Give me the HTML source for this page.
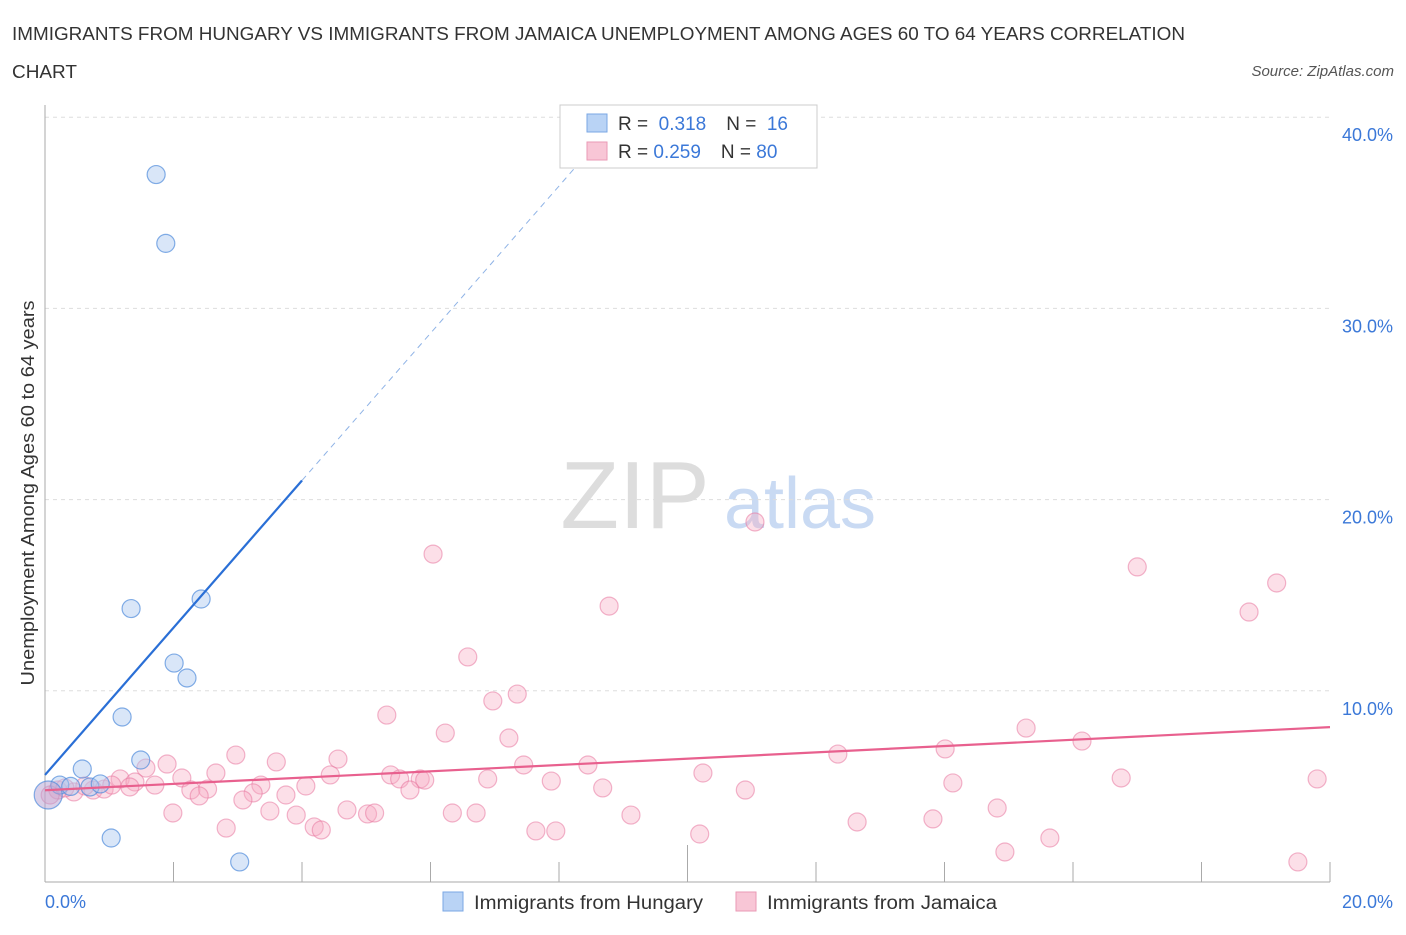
<!DOCTYPE html>
<html><head><meta charset="utf-8"><style>
body{margin:0;background:#fff;font-family:"Liberation Sans",sans-serif;}
svg text{font-family:"Liberation Sans",sans-serif;}
</style></head><body>
<svg id="c" width="1406" height="930">
<text x="12" y="40" font-size="18" fill="#333" textLength="1173" lengthAdjust="spacingAndGlyphs">IMMIGRANTS FROM HUNGARY VS IMMIGRANTS FROM JAMAICA UNEMPLOYMENT AMONG AGES 60 TO 64 YEARS CORRELATION</text>
<text x="12" y="78" font-size="18" fill="#333" textLength="65" lengthAdjust="spacingAndGlyphs">CHART</text>
<text x="1394" y="76" font-size="15" fill="#555" font-style="italic" text-anchor="end">Source: ZipAtlas.com</text>
<g>
<text x="635" y="528" font-size="96" fill="#ddd" font-family="Liberation Serif" text-anchor="middle">ZIP</text>
<text x="800" y="528" font-size="72" fill="#c9daf3" text-anchor="middle">atlas</text>
</g>
<g id="grid"></g>
<g id="axes"></g>
<g id="marks"></g>
<text x="34" y="493" font-size="18" fill="#333" transform="rotate(-90 34 493)" text-anchor="middle" textLength="385" lengthAdjust="spacingAndGlyphs">Unemployment Among Ages 60 to 64 years</text>
<text x="45" y="908" font-size="18" fill="#3b78d8">0.0%</text>
<text x="1393" y="908" font-size="18" fill="#3b78d8" text-anchor="end">20.0%</text>
<g>
<rect x="560" y="105" width="257" height="63" fill="#fff" stroke="#ccc"/>
<rect x="587" y="114" width="20" height="18" fill="#b9d3f5" stroke="#7aa7e4"/>
<rect x="587" y="142" width="20" height="18" fill="#f8c6d6" stroke="#ea9ab5"/>
<text x="618" y="130" font-size="19" fill="#333">R = <tspan fill="#3b78d8">&#160;0.318</tspan><tspan dx="20">N = </tspan><tspan fill="#3b78d8">&#160;16</tspan></text>
<text x="618" y="158" font-size="19" fill="#333">R = <tspan fill="#3b78d8">0.259</tspan><tspan dx="20">N = </tspan><tspan fill="#3b78d8">80</tspan></text>
</g>
<g>
<rect x="443" y="892" width="20" height="19" fill="#b9d3f5" stroke="#7aa7e4"/>
<text x="474" y="909" font-size="19" fill="#333" textLength="229" lengthAdjust="spacingAndGlyphs">Immigrants from Hungary</text>
<rect x="736" y="892" width="20" height="19" fill="#f8c6d6" stroke="#ea9ab5"/>
<text x="767" y="909" font-size="19" fill="#333" textLength="230" lengthAdjust="spacingAndGlyphs">Immigrants from Jamaica</text>
</g>
</svg>
<script>
const yTicks=[10,20,30,40];
const yTickLabels=["10.0%","20.0%","30.0%","40.0%"];
const hungaryX=[1.73,1.88,1.34,2.43,2.01,2.21,1.20,1.49,0.58,1.03,3.03,0.23,0.70,0.86,0.40,0.05];
const hungaryY=[37.0,33.4,14.3,14.8,11.45,10.67,8.63,6.38,5.91,2.30,1.05,5.07,4.97,5.13,5.0,4.55];
const jamaicaX=[6.04,11.05,8.78,17.0,19.17,18.74,6.58,6.97,7.35,5.32,6.23,7.22,15.27,16.14,14.01,12.34,2.97,4.56,3.60,1.90,1.57,7.45,8.45,10.24,2.66,4.44,5.38,2.13,5.52,5.84,5.91,6.89,16.75,19.8,3.36,4.06,1.17,1.40,1.71,7.88,14.13,8.68,10.9,2.27,2.53,5.68,1.32,0.75,0.45,0.92,3.75,2.40,3.24,3.08,3.50,4.70,5.02,5.13,3.91,6.34,6.71,9.12,1.99,14.82,2.82,4.19,4.30,7.64,7.95,10.19,12.64,13.82,15.64,14.94,19.5,0.20,0.08,0.31,0.62,1.04];
const jamaicaY=[17.15,18.83,14.43,16.48,15.64,14.12,11.77,9.47,9.83,8.73,7.79,7.53,8.05,7.37,6.96,6.69,6.64,6.43,6.28,6.17,5.96,6.12,6.12,5.70,5.70,5.60,5.60,5.44,5.39,5.39,5.33,5.39,5.44,5.39,5.07,5.02,5.39,5.23,5.07,5.28,5.18,4.92,4.81,4.81,4.86,4.81,4.97,4.81,4.71,4.86,4.55,4.50,4.66,4.29,3.71,3.77,3.56,3.61,3.50,3.61,3.61,3.50,3.61,3.87,2.82,2.88,2.72,2.67,2.67,2.51,3.14,3.30,2.30,1.57,1.05,4.81,4.55,4.92,5.02,5.07];
const hungaryTrend=[5.6,3.85]; // intercept, slope
const jamaicaTrend=[4.8,0.165];
const NS="http://www.w3.org/2000/svg";
const sx=v=>45+v*64.25, sy=v=>882-v*19.12;
function mk(tag,attrs,parent){const e=document.createElementNS(NS,tag);for(const k in attrs)e.setAttribute(k,attrs[k]);parent.appendChild(e);return e;}
const grid=document.getElementById('grid'),axes=document.getElementById('axes'),marks=document.getElementById('marks');
yTicks.forEach((t,i)=>{
 const l=mk('line',{x1:45,x2:1330,y1:sy(t),y2:sy(t),stroke:'#ddd','stroke-dasharray':'4,4'},grid);
 
 
 const tx=mk('text',{x:1393,y:sy(t)+24,'font-size':18,fill:'#3b78d8','text-anchor':'end'},grid);
 tx.textContent=yTickLabels[i];
 
 
});
mk('line',{x1:45,x2:45,y1:105,y2:882,stroke:'#aaa'},axes);
mk('line',{x1:45,x2:1330,y1:882,y2:882,stroke:'#aaa'},axes);
for(let i=1;i<=10;i++){
 const x=sx(i*2);
 const t=mk('line',{x1:x,x2:x,y1:i==5?845:862,y2:882,stroke:'#aaa'},axes);
 
 
}
jamaicaX.forEach((x,i)=>{
 const c=mk('circle',{cx:sx(x),cy:sy(jamaicaY[i]),r:9,fill:'rgba(246,170,195,0.38)',stroke:'rgba(232,120,160,0.55)','stroke-width':1.2},marks);
 
 
});
hungaryX.forEach((x,i)=>{
 const big=i==hungaryX.length-1;
 const c=mk('circle',{cx:sx(x),cy:sy(hungaryY[i]),r:big?14:9,fill:big?'rgba(180,160,210,0.5)':'rgba(170,200,240,0.45)',stroke:'rgba(80,140,220,0.7)','stroke-width':1.2},marks);
 
 
});
let l=mk('line',{x1:sx(0),y1:sy(hungaryTrend[0]),x2:sx(4),y2:sy(hungaryTrend[0]+4*hungaryTrend[1]),stroke:'#2a6fd6','stroke-width':2.2},marks);


l=mk('line',{x1:sx(4),y1:sy(hungaryTrend[0]+4*hungaryTrend[1]),x2:sx(8.5),y2:sy(hungaryTrend[0]+8.5*hungaryTrend[1]),stroke:'#8fb3e6','stroke-width':1,'stroke-dasharray':'6,5'},marks);


l=mk('line',{x1:sx(0),y1:sy(jamaicaTrend[0]),x2:sx(20),y2:sy(jamaicaTrend[0]+20*jamaicaTrend[1]),stroke:'#e8608e','stroke-width':2.2},marks);


</script>
</body></html>
